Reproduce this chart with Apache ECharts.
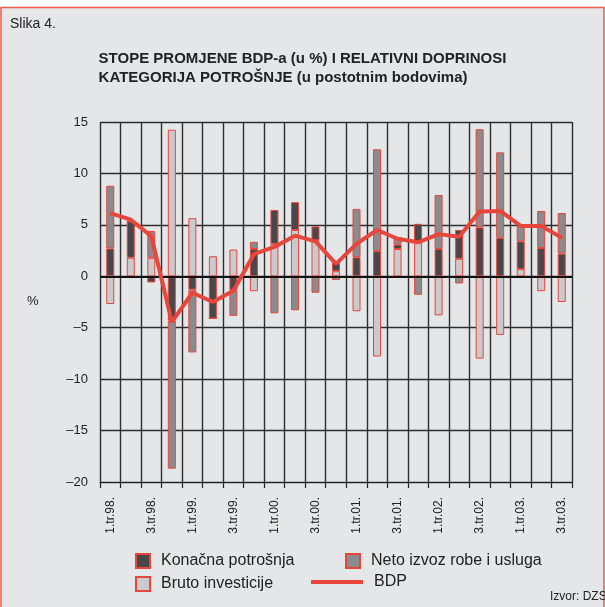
<!DOCTYPE html>
<html>
<head>
<meta charset="utf-8">
<script src="https://cdn.jsdelivr.net/npm/echarts@6/dist/echarts.min.js"></script>
<style>
  html, body { margin: 0; padding: 0; background: #fff; }
  #chart { width: 605px; height: 607px; }
</style>
</head>
<body>
<div id="chart"></div>
<script>
// kvartali
var quarters = ['1.tr.98.', '2.tr.98.', '3.tr.98.', '4.tr.98.', '1.tr.99.', '2.tr.99.', '3.tr.99.', '4.tr.99.',
  '1.tr.00.', '2.tr.00.', '3.tr.00.', '4.tr.00.', '1.tr.01.', '2.tr.01.', '3.tr.01.', '4.tr.01.',
  '1.tr.02.', '2.tr.02.', '3.tr.02.', '4.tr.02.', '1.tr.03.', '2.tr.03.', '3.tr.03.'];
var bruto = [-2.7, 1.8, 1.8, 14.25, 5.65, 1.95, 2.6, -1.45, 3.15, 4.5, 3.5, 0.5, -3.4, -7.8, 2.65, 3.3, -3.8, 1.7, -8.0, -5.7, 0.7, -1.45, -2.5];
var konacna = [2.7, 3.55, -0.6, -4.3, -1.3, -4.1, -1.35, 2.65, 3.3, 2.7, 1.35, 0.9, 1.85, 2.45, 0.45, 1.8, 2.65, 2.8, 4.75, 3.75, 2.7, 2.75, 2.2];
var neto = [6.1, 0, 2.6, -14.4, -6.1, 0, -2.5, 0.7, -3.6, -3.3, -1.6, -0.35, 4.7, 9.9, 0.7, -1.8, 5.25, -0.7, 9.55, 8.3, 1.55, 3.6, 3.95];
var bdp = [6.15, 5.5, 3.9, -4.45, -1.6, -2.5, -1.4, 2.15, 2.85, 3.95, 3.4, 1.2, 3.15, 4.5, 3.65, 3.3, 4.1, 3.85, 6.3, 6.35, 4.9, 4.9, 3.75];
var yTicks = [-20, 15, 5];

var red = '#e8453c';
var fontFam = '"Liberation Sans", Arial, sans-serif';

var chart = echarts.init(document.getElementById('chart'));

function barSeries(name, data, color) {
  return {
    name: name,
    type: 'bar',
    stack: 'doprinos',
    barWidth: 8,
    data: data,
    itemStyle: { color: color, borderColor: red, borderWidth: 1 }
  };
}

var legendText = { fontSize: 16, color: '#222', fontFamily: fontFam, padding: [0, 0, 0, 6] };

var option = {
  backgroundColor: '#fff',
  animation: false,
  graphic: [
    {
      type: 'rect', z: -10,
      shape: { x: 1, y: 7.5, width: 603, height: 620 },
      style: { fill: '#e5e6e8', stroke: '#ec5a52', lineWidth: 1.5 }
    },
    {
      type: 'text', left: 10, top: 17,
      style: { text: 'Slika 4.', fontSize: 14, fill: '#222', fontFamily: fontFam }
    },
    {
      type: 'text', left: 'center', top: 49,
      style: {
        text: 'STOPE PROMJENE BDP-a (u %) I RELATIVNI DOPRINOSI\nKATEGORIJA POTROŠNJE (u postotnim bodovima)',
        fontSize: 15, fontWeight: 'bold', fill: '#222', fontFamily: fontFam,
        align: 'center', lineHeight: 19
      }
    },
    {
      type: 'text', left: 27, top: 295,
      style: { text: '%', fontSize: 13, fill: '#222', fontFamily: fontFam }
    },
    {
      type: 'text', left: 550, top: 591,
      style: { text: 'Izvor: DZS', fontSize: 12, fill: '#222', fontFamily: fontFam }
    }
  ],
  grid: { left: 100, right: 33, top: 122, bottom: 125, containLabel: false },
  legend: [
    { data: ['Konačna potrošnja'], left: 135, top: 553, padding: 0, itemWidth: 14, itemHeight: 14, textStyle: legendText, icon: 'rect' },
    { data: ['Neto izvoz robe i usluga'], left: 345, top: 553, padding: 0, itemWidth: 14, itemHeight: 14, textStyle: legendText, icon: 'rect' },
    { data: ['Bruto investicije'], left: 135, top: 576, padding: 0, itemWidth: 14, itemHeight: 14, textStyle: legendText, icon: 'rect' },
    { data: [{ name: 'BDP', icon: 'rect' }], left: 311, top: 574, padding: 0, itemWidth: 52, itemHeight: 4, textStyle: legendText }
  ],
  xAxis: {
    type: 'category',
    data: quarters,
    boundaryGap: true,
    axisLine: { onZero: false, lineStyle: { color: '#222', width: 1.2 } },
    axisTick: { show: true, interval: 0, length: 6, lineStyle: { color: '#222', width: 1.2 } },
    axisLabel: { interval: 1, rotate: 90, fontSize: 12, color: '#222', fontFamily: fontFam, margin: 15 },
    splitLine: { show: true, interval: 0, lineStyle: { color: '#2e2e2e', width: 1.4 } }
  },
  yAxis: {
    type: 'value',
    min: yTicks[0],
    max: yTicks[1],
    interval: yTicks[2],
    axisLine: { show: false },
    axisTick: { show: false },
    axisLabel: {
      fontSize: 13, color: '#222', fontFamily: fontFam, margin: 12,
      formatter: function (v) { return v < 0 ? '–' + Math.abs(v) : String(v); }
    },
    splitLine: { show: true, lineStyle: { color: '#2e2e2e', width: 1.4 } }
  },
  series: [
    barSeries('Bruto investicije', bruto, '#c9cacc'),
    barSeries('Konačna potrošnja', konacna, '#48484a'),
    barSeries('Neto izvoz robe i usluga', neto, '#8a8b8d'),
    {
      name: 'BDP',
      type: 'line',
      data: bdp,
      symbol: 'none',
      z: 5,
      lineStyle: { color: red, width: 4 },
      itemStyle: { color: red },
      markLine: {
        silent: true,
        symbol: 'none',
        label: { show: false },
        lineStyle: { color: '#111', width: 2, type: 'solid' },
        data: [{ yAxis: 0 }]
      }
    }
  ]
};

chart.setOption(option);
</script>
</body>
</html>
